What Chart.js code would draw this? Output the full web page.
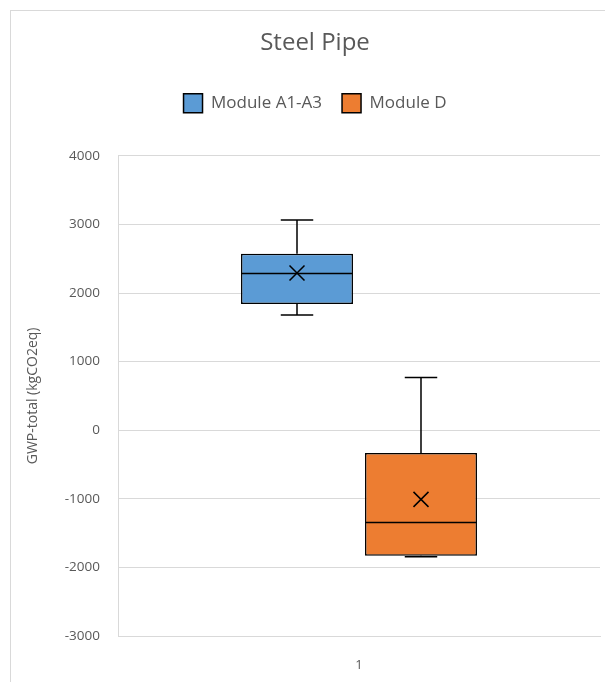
<!DOCTYPE html>
<html>
<head>
<meta charset="utf-8">
<script src="https://cdn.jsdelivr.net/npm/chart.js@4.4.1/dist/chart.umd.min.js"></script>
<style>
  html, body { margin: 0; padding: 0; background: #fff; overflow: hidden; }
  #wrap { width: 605px; height: 682px; }
</style>
</head>
<body>
<div id="wrap"><canvas id="boxChart" width="605" height="682"></canvas></div>
<script>
// Данные
const categories = ['1'];
const seriesNames = ['Module A1-A3', 'Module D'];
const seriesColors = ['#5B9BD5', '#ED7D31'];
const minValues = [1680, -1845];
const q1Values = [1840, -1830];
const medianValues = [2285, -1347];
const q3Values = [2572, -332];
const maxValues = [3065, 770];
const meanValues = [2292, -1008];
const yTicks = [-3000, -2000, -1000, 0, 1000, 2000, 3000, 4000];

const textColor = '#595959';
const gridColor = '#d9d9d9';
const fontFamily = '"Open Sans", "Noto Sans", sans-serif';

// Лишнее место под легендой
const legendGapPlugin = {
    id: 'legendGap',
    beforeInit(chart) {
        const origFit = chart.legend.fit;
        chart.legend.fit = function () {
            origFit.bind(chart.legend)();
            this.height += 33;
        };
    }
};

// Рамка, усы, медиана и среднее поверх плавающих столбцов
const boxPlugin = {
    id: 'boxExtras',
    beforeDraw(chart) {
        const ctx = chart.ctx;
        ctx.save();
        ctx.strokeStyle = gridColor;
        ctx.lineWidth = 1;
        ctx.strokeRect(10.5, 10.5, 800, 800);
        ctx.restore();
    },
    afterDatasetsDraw(chart) {
        const ctx = chart.ctx;
        const y = chart.scales.y;
        ctx.save();
        ctx.strokeStyle = '#000';
        ctx.lineWidth = 1.5;
        for (let i = 0; i < seriesNames.length; i++) {
            const bar = chart.getDatasetMeta(i).data[0];
            const cx = bar.x;
            const half = bar.width / 2;
            const cap = bar.width * 0.145;

            const yMax = y.getPixelForValue(maxValues[i]);
            const yQ3 = y.getPixelForValue(q3Values[i]);
            const yQ1 = y.getPixelForValue(q1Values[i]);
            const yMin = y.getPixelForValue(minValues[i]);
            const yMed = y.getPixelForValue(medianValues[i]);
            const yMean = y.getPixelForValue(meanValues[i]);

            ctx.beginPath();
            // верхний ус
            ctx.moveTo(cx, yMax); ctx.lineTo(cx, yQ3);
            ctx.moveTo(cx - cap, yMax); ctx.lineTo(cx + cap, yMax);
            // нижний ус
            ctx.moveTo(cx, yQ1); ctx.lineTo(cx, yMin);
            ctx.moveTo(cx - cap, yMin); ctx.lineTo(cx + cap, yMin);
            // медиана
            ctx.moveTo(cx - half, yMed); ctx.lineTo(cx + half, yMed);
            ctx.stroke();

            // среднее (крестик)
            const s = 7.5;
            ctx.beginPath();
            ctx.moveTo(cx - s, yMean - s); ctx.lineTo(cx + s, yMean + s);
            ctx.moveTo(cx - s, yMean + s); ctx.lineTo(cx + s, yMean - s);
            ctx.stroke();
        }
        ctx.restore();
    }
};

const datasets = seriesNames.map((name, i) => ({
    label: name,
    data: [[q1Values[i], q3Values[i]]],
    backgroundColor: seriesColors[i],
    borderColor: '#000',
    borderWidth: 1.5,
    borderSkipped: false,
    barPercentage: 0.903,
    categoryPercentage: 0.5145
}));

new Chart(document.getElementById('boxChart').getContext('2d'), {
    type: 'bar',
    data: { labels: categories, datasets: datasets },
    plugins: [legendGapPlugin, boxPlugin],
    options: {
        responsive: false,
        animation: false,
        layout: { padding: { left: 30, right: 5, top: 10, bottom: 9 } },
        plugins: {
            tooltip: { enabled: false },
            title: {
                display: true,
                text: 'Steel Pipe',
                color: textColor,
                font: { family: fontFamily, size: 24, weight: 'normal' },
                padding: { top: 19, bottom: 16 }
            },
            legend: {
                position: 'top',
                labels: {
                    color: textColor,
                    font: { family: fontFamily, size: 17 },
                    boxWidth: 19,
                    boxHeight: 19,
                    padding: 20
                }
            }
        },
        scales: {
            x: {
                afterFit(scale) {
                    scale.height = 37;
                },
                grid: { display: false },
                border: { display: true, color: gridColor },
                ticks: { color: textColor, font: { family: fontFamily, size: 13 }, padding: 13 }
            },
            y: {
                min: -3000,
                max: 4000,
                afterBuildTicks(scale) {
                    scale.ticks = yTicks.map(v => ({ value: v }));
                },
                afterFit(scale) {
                    scale.width = 88;
                },
                grid: { color: gridColor, drawTicks: false },
                border: { display: true, color: gridColor },
                ticks: {
                    color: textColor,
                    font: { family: fontFamily, size: 13.5 },
                    padding: 18,
                    callback: v => String(v)
                },
                title: {
                    display: true,
                    text: 'GWP-total (kgCO2eq)',
                    color: textColor,
                    font: { family: fontFamily, size: 14 },
                    padding: { top: -5, bottom: 0 }
                }
            }
        }
    }
});
</script>
</body>
</html>
